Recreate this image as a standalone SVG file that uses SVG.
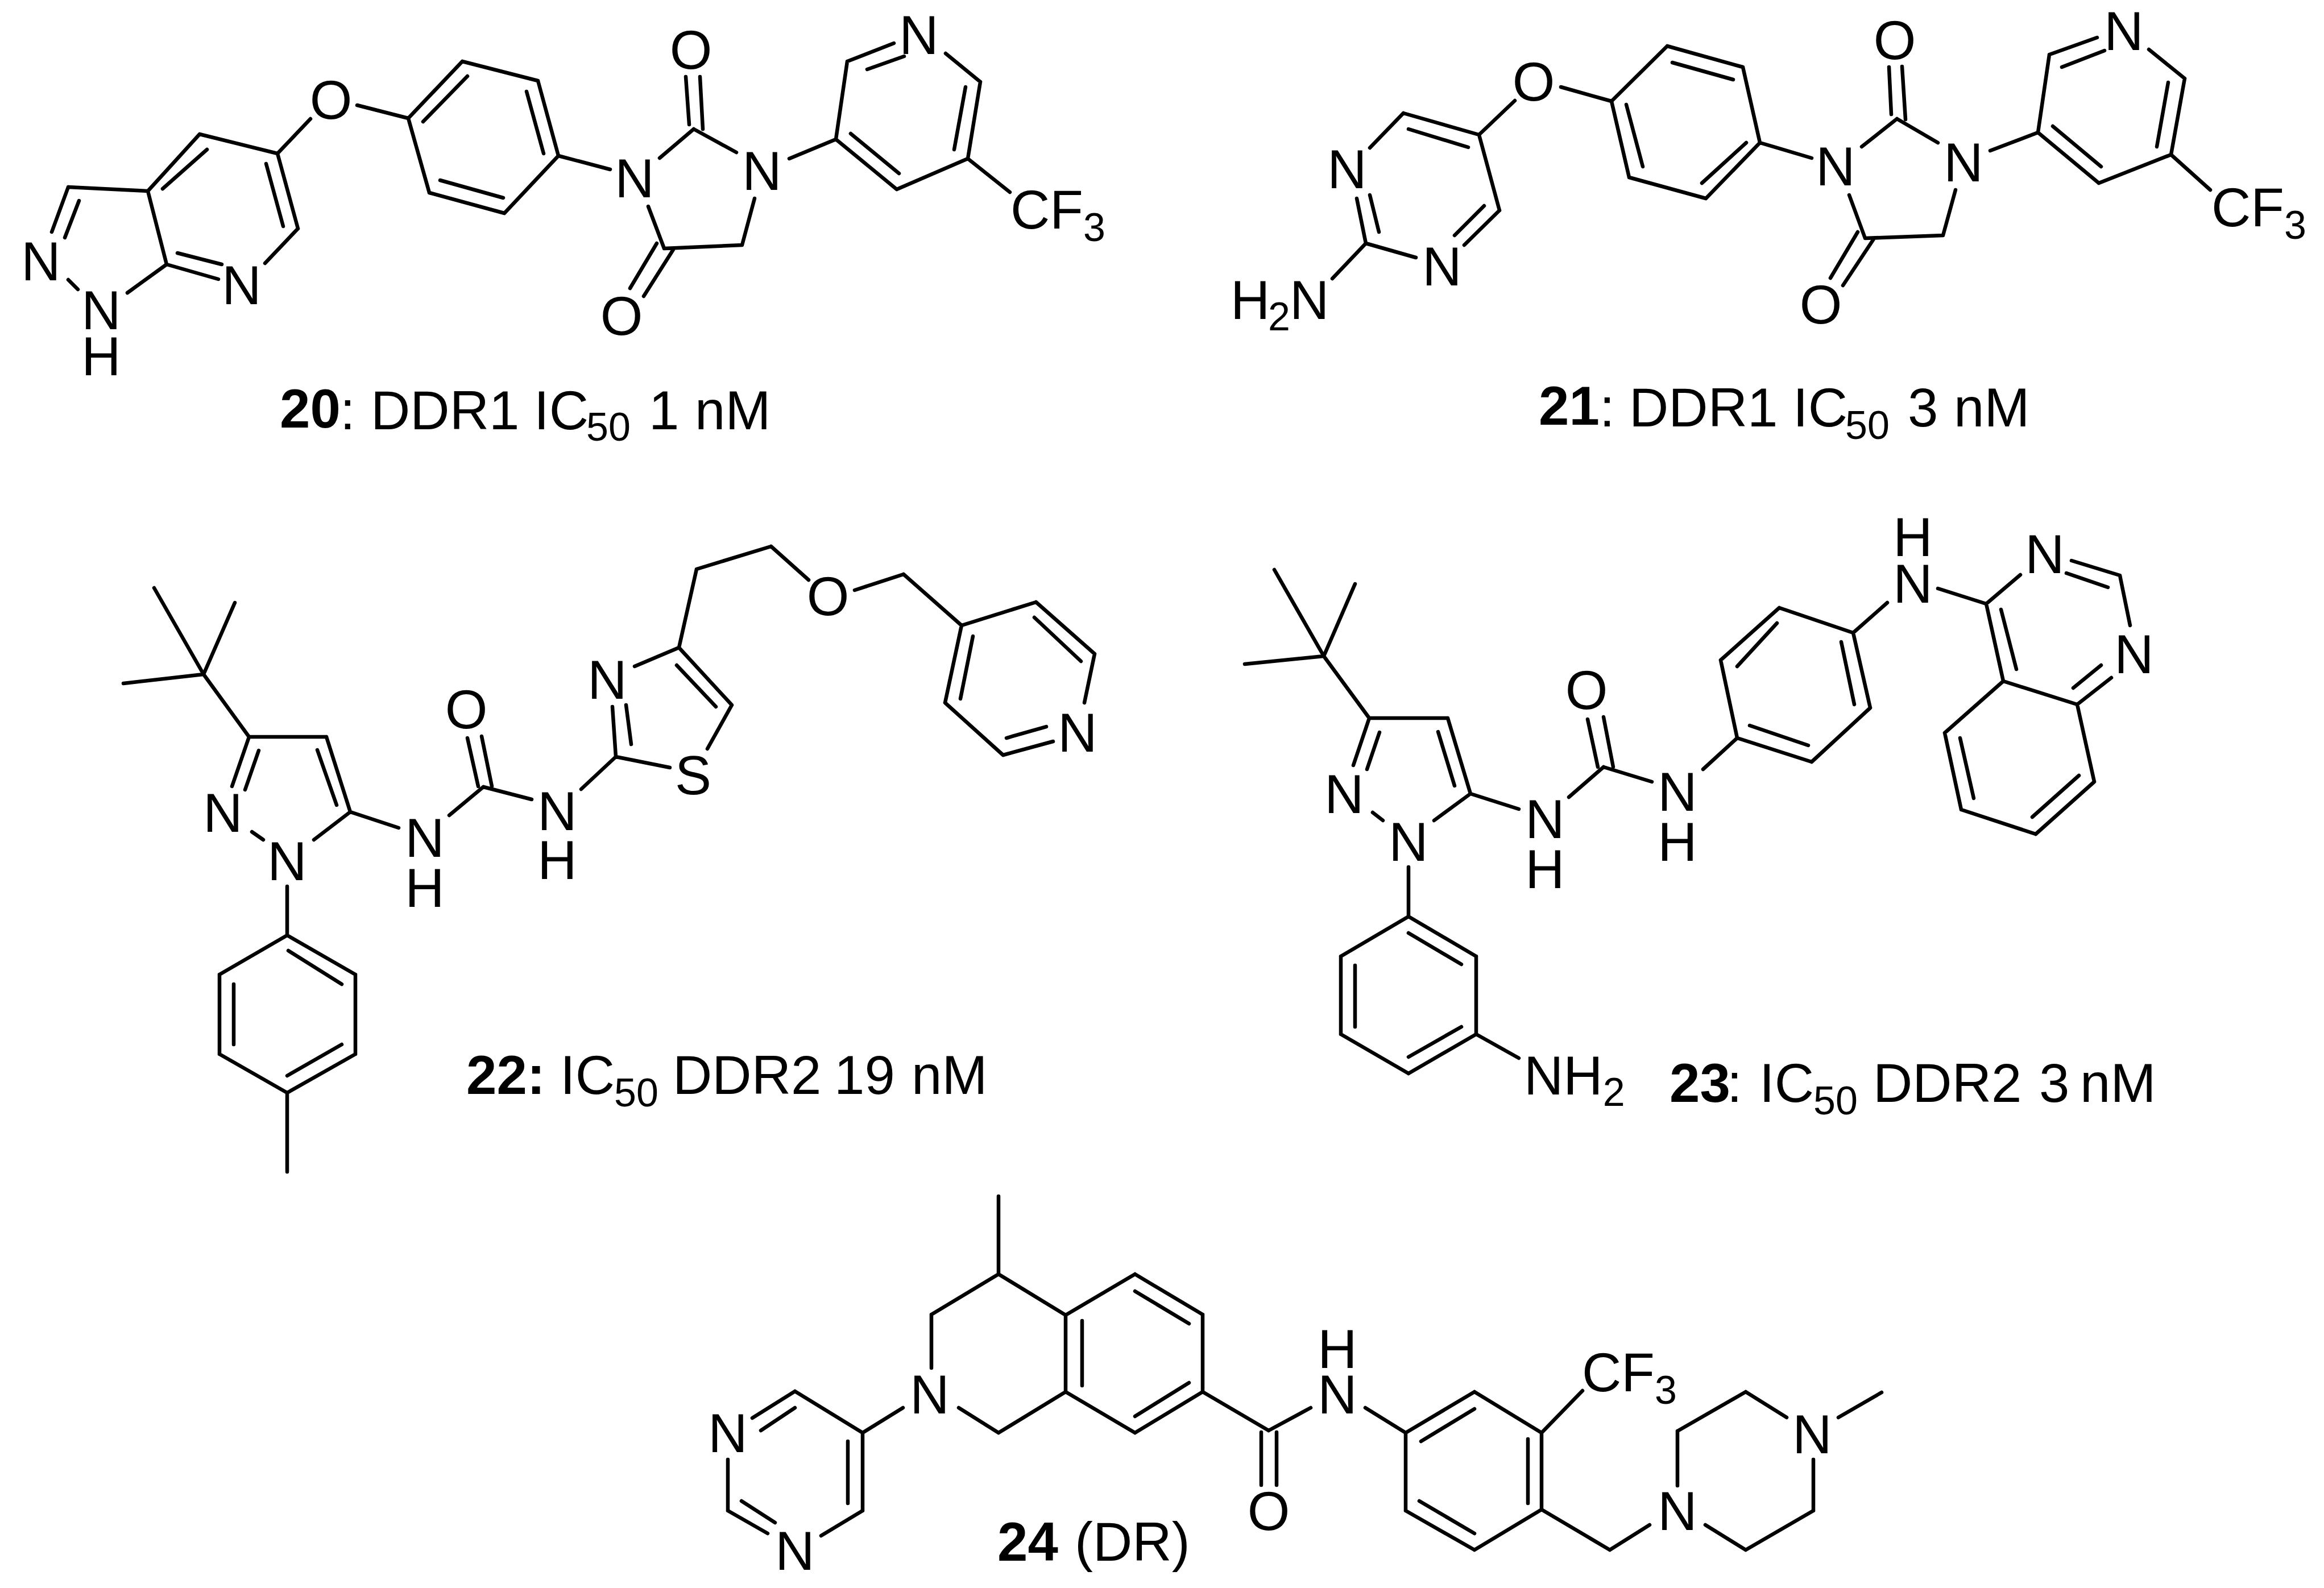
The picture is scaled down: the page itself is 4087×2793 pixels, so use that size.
<svg xmlns="http://www.w3.org/2000/svg" width="4087" height="2793" viewBox="0 0 4087 2793">
<style>
text{font-family:"Liberation Sans",Arial,sans-serif;font-size:96px;fill:#000}
.a{text-anchor:middle}
.s{font-size:70px}
.k{font-weight:bold}
.b{fill:none;stroke:#000;stroke-width:6.5;stroke-linecap:round;stroke-linejoin:round}
</style>
<rect width="4087" height="2793" fill="#fff"/>
<g id="connectors">
<path id="bonds20" class="b" d="M364 263L286 332M351 236L260 336M351 236L488 270M488 270L524 402M468 288L498 398M120 329L260 336M120 329L91 408M139 353L114 418M120 492L137 509M224 515L293 465M260 336L293 465M293 465L384 491M312 445L390 465M466 463L524 402M488 270L546 209M628 185L718 208M718 208L813 108M744 214L822 134M813 108L946 142M946 142L982 274M926 161L956 270M982 274L887 375M887 375L755 339M774 317L885 348M755 339L718 208M982 274L1073 298M1160 278L1220 227M1220 227L1295 268M1206 135L1212 219M1231 135L1236 227M1140 363L1168 437M1168 437L1305 431M1305 431L1327 349M1155 428L1108 507M1184 439L1132 521M1388 279L1470 245M1470 245L1490 108M1490 108L1572 76M1525 122L1590 99M1663 94L1724 144M1724 144L1702 279M1698 153L1678 263M1702 279L1577 333M1577 333L1470 245M1581 305L1496 235M1702 279L1776 338"/>
<path id="bonds21" class="b" d="M2664 177L2601 237M2468 199L2601 237M2477 227L2582 259M2468 199L2409 260M2386 349L2402 428M2409 343L2425 408M2402 428L2490 453M2575 431L2637 370M2558 414L2610 362M2601 237L2637 370M2402 428L2343 490M2745 153L2834 178M2834 178L2932 81M2932 81L3065 118M2941 110L3048 140M3065 118L3095 251M3095 251L3000 349M3071 251L2993 322M3000 349L2865 312M2865 312L2834 178M2860 184L2889 293M3095 251L3186 278M3274 258L3336 209M3336 209L3408 251M3322 118L3326 201M3345 117L3351 210M3252 343L3280 419M3280 419L3417 414M3417 414L3439 334M3267 408L3219 489M3296 419L3241 502M3500 265L3584 233M3584 233L3604 96M3604 96L3688 66M3626 118L3701 89M3779 87L3842 138M3842 138L3818 272M3813 145L3793 258M3818 272L3691 322M3691 322L3584 233M3695 293L3610 222M3818 272L3887 334"/>
<path id="bonds22" class="b" d="M358 1186L271 1034M358 1186L413 1060M358 1186L217 1202M358 1186L438 1296M438 1296L408 1383M455 1320L431 1389M438 1296L574 1296M574 1296L616 1428M558 1319L592 1416M443 1463L463 1477M552 1477L616 1428M616 1428L701 1456M790 1434L850 1384M822 1298L841 1383M847 1295L865 1383M850 1384L935 1406M1022 1388L1083 1331M1083 1331L1178 1350M1244 1317L1287 1240M1287 1240L1194 1139M1259 1243L1190 1170M1194 1139L1116 1172M1077 1243L1083 1331M1101 1240L1110 1309M1194 1139L1225 1001M1225 1001L1356 961M1356 961L1422 1020M1503 1038L1589 1010M1589 1010L1691 1100M1691 1100L1822 1059M1822 1059L1925 1150M1819 1086L1901 1163M1925 1150L1907 1236M1852 1304L1764 1328M1840 1278L1770 1298M1764 1328L1662 1236M1662 1236L1691 1100M1711 1119L1689 1229M505 1559L505 1645M505 1645L625 1714M625 1714L625 1854M625 1854L505 1922M505 1922L386 1854M386 1854L386 1714M386 1714L505 1645M507 1672L601 1731M601 1837L505 1892M411 1731L411 1837M505 1922L505 2061"/>
<path id="bonds23" class="b" d="M2328 1154L2241 1002M2328 1154L2383 1027M2328 1154L2189 1168M2328 1154L2408 1263M2408 1263L2380 1346M2426 1288L2404 1353M2408 1263L2546 1263M2546 1263L2586 1396M2529 1287L2558 1382M2414 1429L2432 1443M2522 1443L2586 1396M2586 1396L2671 1423M2759 1402L2820 1349M2792 1265L2810 1349M2820 1261L2837 1349M2820 1349L2905 1375M2995 1353L3055 1298M3055 1298L3186 1340M3186 1340L3289 1245M3289 1245L3259 1113M3259 1113L3129 1069M3129 1069L3026 1161M3026 1161L3055 1298M3077 1276L3180 1311M3261 1239L3238 1129M3125 1096L3055 1172M3259 1113L3319 1060M3408 1035L3493 1062M3493 1062L3553 1011M3643 986L3728 1012M3634 1008L3707 1033M3728 1012L3746 1100M3713 1192L3653 1239M3695 1170L3646 1210M3653 1239L3523 1198M3493 1062L3523 1198M3519 1072L3546 1177M3523 1198L3420 1289M3420 1289L3449 1424M3449 1424L3580 1467M3580 1467L3683 1375M3683 1375L3653 1239M3447 1298L3471 1404M3574 1437L3656 1364M2477 1525L2477 1612M2477 1612L2596 1682M2596 1682L2596 1819M2596 1819L2477 1888M2477 1888L2358 1819M2358 1819L2358 1682M2358 1682L2477 1612M2477 1641L2570 1696M2570 1806L2477 1859M2383 1698L2383 1806M2596 1819L2671 1861"/>
<path id="bonds24" class="b" d="M1756 2104L1756 2241M1756 2241L1638 2312M1756 2241L1874 2313M1638 2312L1638 2406M1686 2476L1756 2520M1756 2520L1874 2448M1874 2448L1874 2313M1903 2323L1903 2437M1874 2313L1996 2241M1996 2241L2115 2312M1996 2271L2091 2328M2115 2312L2115 2448M2115 2448L1996 2520M2091 2432L1996 2491M1996 2520L1874 2448M2115 2448L2231 2516M2218 2519L2218 2612M2245 2519L2245 2612M2231 2516L2305 2476M2401 2476L2472 2520M2472 2520L2593 2448M2593 2448L2711 2520M2711 2520L2711 2655M2711 2655L2593 2726M2593 2726L2472 2657M2472 2657L2472 2520M2499 2535L2593 2478M2687 2531L2687 2644M2593 2697L2496 2640M2711 2520L2783 2446M2711 2655L2831 2726M2831 2726L2901 2682M2950 2613L2950 2517M2950 2517L3070 2448M3070 2448L3142 2493M3189 2567L3189 2657M3189 2657L3070 2726M3070 2726L2999 2682M3233 2493L3309 2449M1517 2520L1588 2476M1517 2520L1517 2657M1491 2535L1491 2644M1517 2657L1444 2701M1350 2697L1280 2657M1363 2678L1304 2640M1280 2657L1280 2567M1323 2494L1398 2447M1338 2516L1398 2476M1398 2447L1517 2520"/>
</g>
<g id="mol20">
<text class="a" x="72" y="493">N</text><text class="a" x="178" y="579">N<tspan x="178" y="660">H</tspan></text><text class="a" x="425" y="535">N</text><text class="a" x="582" y="209">O</text><text class="a" x="1116" y="347">N</text><text class="a" x="1340" y="334">N</text><text class="a" x="1215" y="121">O</text><text class="a" x="1093" y="589">O</text><text class="a" x="1616" y="95">N</text>
<text x="1777" y="402">CF<tspan class="s" dy="22">3</tspan></text>
<text><tspan class="k" x="492" y="752">20</tspan><tspan x="598" y="755">:</tspan><tspan x="652" y="755">DDR1</tspan><tspan x="939" y="755">IC</tspan><tspan class="s" x="1031" y="775">50</tspan><tspan x="1141" y="755">1</tspan><tspan x="1222" y="755">nM</tspan></text>
</g>
<g id="mol21">
<text class="a" x="2369" y="331">N</text><text class="a" x="2536" y="502">N</text><text class="a" x="2697" y="177">O</text><text class="a" x="3228" y="326">N</text><text class="a" x="3453" y="319">N</text><text class="a" x="3332" y="104">O</text><text class="a" x="3202" y="569">O</text><text class="a" x="3735" y="88">N</text>
<text y="561"><tspan x="2164">H</tspan><tspan class="s" x="2230" dy="20">2</tspan><tspan x="2268" dy="-20">N</tspan></text>
<text x="3889" y="398">CF<tspan class="s" dy="22">3</tspan></text>
<text><tspan class="k" x="2706" y="747">21</tspan><tspan x="2813" y="750">:</tspan><tspan x="2865" y="750">DDR1</tspan><tspan x="3153" y="750">IC</tspan><tspan class="s" x="3245" y="772">50</tspan><tspan x="3355" y="750">3</tspan><tspan x="3436" y="750">nM</tspan></text>
</g>
<g id="mol22">
<text class="a" x="392" y="1463">N</text><text class="a" x="505" y="1548">N</text><text class="a" x="747" y="1507">N<tspan x="747" y="1595">H</tspan></text><text class="a" x="820" y="1281">O</text><text class="a" x="980" y="1460">N<tspan x="980" y="1546">H</tspan></text><text class="a" x="1219" y="1397">S</text><text class="a" x="1068" y="1229">N</text><text class="a" x="1456" y="1082">O</text><text class="a" x="1895" y="1322">N</text>
<text y="1924"><tspan class="k" x="820">22:</tspan><tspan x="985">IC</tspan><tspan class="s" x="1080" dy="22">50</tspan><tspan x="1183" dy="-22">DDR2</tspan><tspan x="1467">19</tspan><tspan x="1603">nM</tspan></text>
</g>
<g id="mol23">
<text class="a" x="2364" y="1430">N</text><text class="a" x="2477" y="1514">N</text><text class="a" x="2717" y="1474">N<tspan x="2717" y="1562">H</tspan></text><text class="a" x="2790" y="1247">O</text><text class="a" x="2950" y="1426">N<tspan x="2950" y="1514">H</tspan></text><text class="a" x="3364" y="978">H<tspan x="3364" y="1060">N</tspan></text><text class="a" x="3596" y="1008">N</text><text class="a" x="3753" y="1184">N</text>
<text x="2680" y="1925">NH<tspan class="s" dy="20">2</tspan></text>
<text y="1938"><tspan class="k" x="2936">23</tspan><tspan x="3037">:</tspan><tspan x="3094">IC</tspan><tspan class="s" x="3189" dy="22">50</tspan><tspan x="3294" dy="-22">DDR2</tspan><tspan x="3586">3</tspan><tspan x="3658">nM</tspan></text>
</g>
<g id="mol24">
<text class="a" x="1635" y="2486">N</text><text class="a" x="2352" y="2406">H<tspan x="2352" y="2486">N</tspan></text><text class="a" x="2231" y="2691">O</text><text class="a" x="2950" y="2691">N</text><text class="a" x="3187" y="2556">N</text><text class="a" x="1280" y="2554">N</text><text class="a" x="1398" y="2761">N</text>
<text x="2782" y="2447">CF<tspan class="s" dy="22">3</tspan></text>
<text y="2745"><tspan class="k" x="1754">24</tspan><tspan x="1890">(DR)</tspan></text>
</g>
</svg>
